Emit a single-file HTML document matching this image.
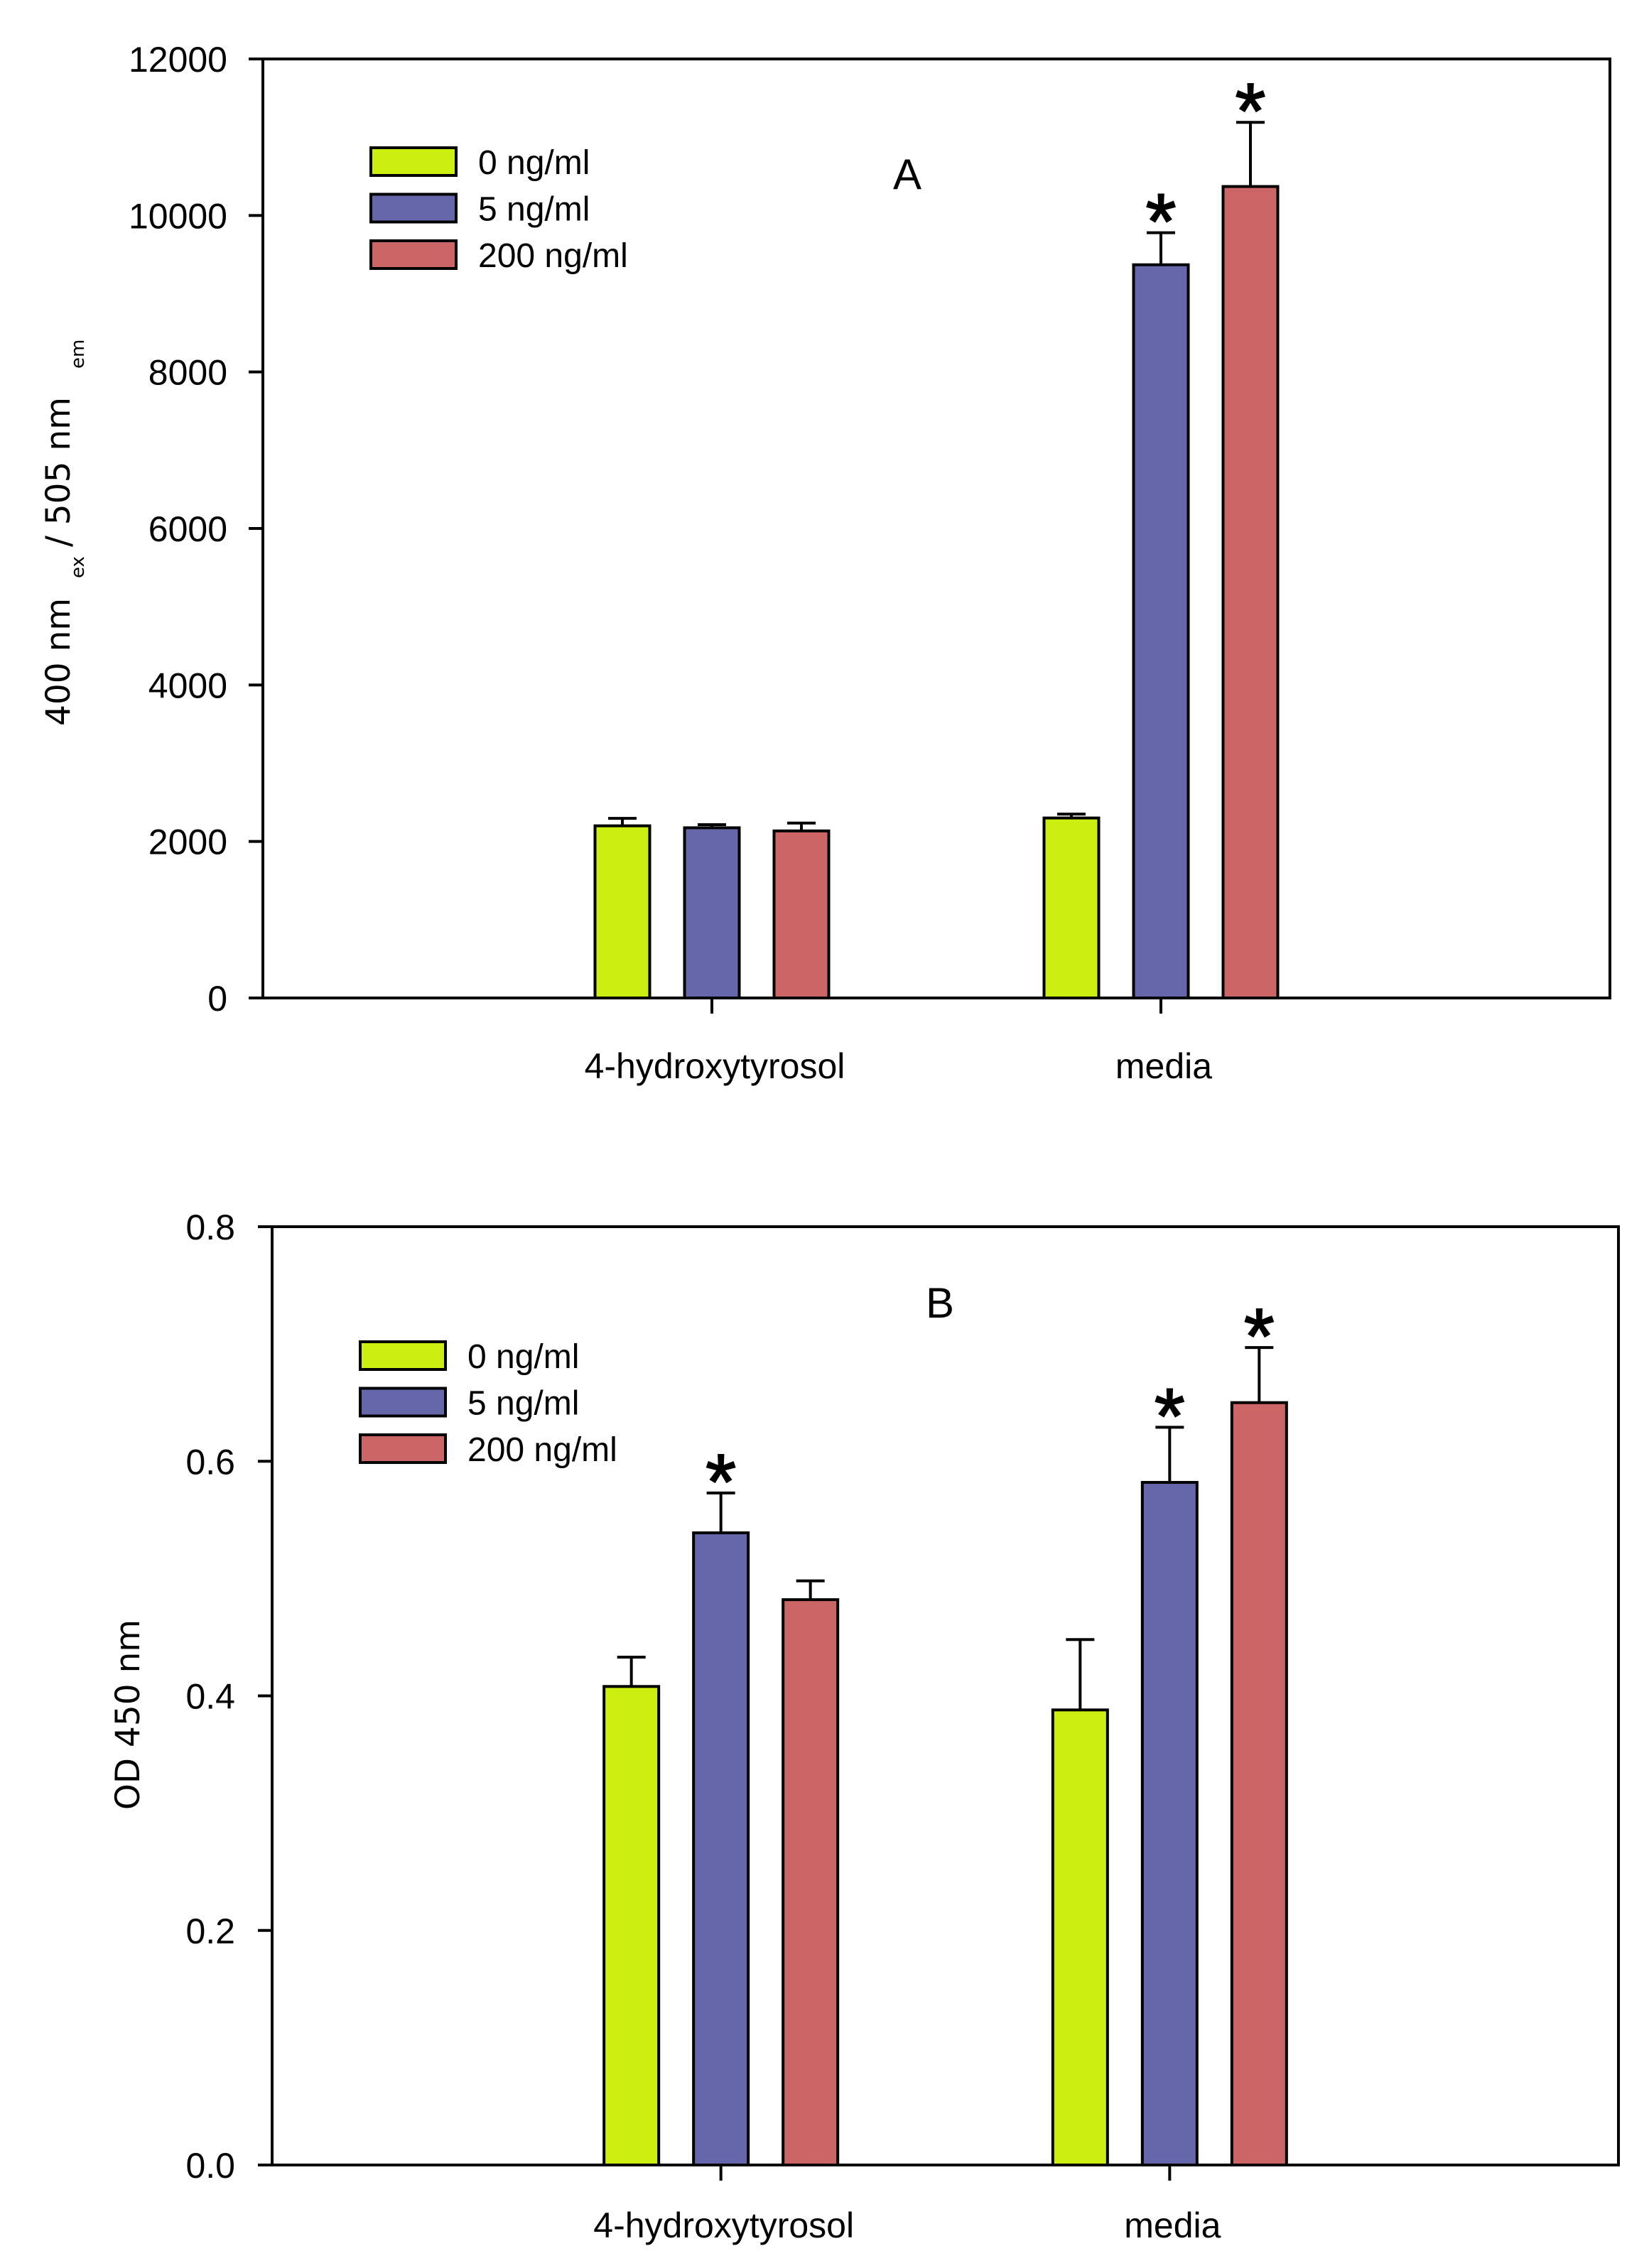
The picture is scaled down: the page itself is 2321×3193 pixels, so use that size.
<!DOCTYPE html>
<html><head><meta charset="utf-8"><style>
html,body{margin:0;padding:0;background:#fff;}
svg{display:block;}
text{font-family:"Liberation Sans",sans-serif;fill:#000;}
</style></head><body>
<svg id="fig" width="2321" height="3193" viewBox="0 0 2321 3193" xmlns="http://www.w3.org/2000/svg">
<g>
<text transform="translate(98,1022) rotate(-90)" style="font-family:'DejaVu Sans',sans-serif" font-size="47">400 nm</text>
<text transform="translate(118,814) rotate(-90)" style="font-family:'DejaVu Sans',sans-serif" font-size="26">ex</text>
<text transform="translate(98,770) rotate(-90)" style="font-family:'DejaVu Sans',sans-serif" font-size="47">/ 505 nm</text>
<text transform="translate(118,519) rotate(-90)" style="font-family:'DejaVu Sans',sans-serif" font-size="26">em</text>
</g>
<text transform="translate(196,2414) rotate(-90)" text-anchor="middle" style="font-family:'DejaVu Sans',sans-serif" font-size="47">OD 450 nm</text>
</svg>
<script>
const categories = ["4-hydroxytyrosol", "media"];
const seriesNames = ["0 ng/ml", "5 ng/ml", "200 ng/ml"];
const colors = ["#CCEE11", "#6667AA", "#CC6666"];
const aValues = [[2200, 2300], [2175, 9370], [2135, 10370]];
const aErrors = [[95, 50], [40, 410], [100, 820]];
const aSig = [[false, false], [false, true], [false, true]];
const aTicks = [0, 2000, 4000, 6000, 8000, 10000, 12000];
const aTickLabels = ["0", "2000", "4000", "6000", "8000", "10000", "12000"];
const bValues = [[0.408, 0.388], [0.539, 0.582], [0.482, 0.650]];
const bErrors = [[0.025, 0.060], [0.034, 0.047], [0.016, 0.047]];
const bSig = [[false, false], [true, true], [false, true]];
const bTicks = [0, 0.2, 0.4, 0.6, 0.8];
const bTickLabels = ["0.0", "0.2", "0.4", "0.6", "0.8"];

const svg = document.getElementById('fig');
const NS = 'http://www.w3.org/2000/svg';
function mk(tag, attrs, parent) {
  const e = document.createElementNS(NS, tag);
  for (const k in attrs) e.setAttribute(k, attrs[k]);
  (parent || svg).appendChild(e);
  return e;
}

function drawChart(cfg) {
  const g = mk('g', {});
  
  
  const yS = v => cfg.bottom - (v - cfg.ymin) / (cfg.ymax - cfg.ymin) * (cfg.bottom - cfg.top);
  const xS = i => cfg.left + (i + 1) / (categories.length + 1) * (cfg.right - cfg.left);
  const barW = 77, step = 126;
  for (let s = 0; s < seriesNames.length; s++) {
    for (let c = 0; c < categories.length; c++) {
      const cx = xS(c) + (s - 1) * step;
      const v = cfg.values[s][c], e = cfg.errors[s][c];
      const yt = yS(v), ye = yS(v + e);
      const ln = mk('line', {x1: cx, x2: cx, y1: yt, y2: ye, stroke: '#000', 'stroke-width': 4}, g);
      
      
      const cap = mk('line', {x1: cx - 20, x2: cx + 20, y1: ye, y2: ye, stroke: '#000', 'stroke-width': 4}, g);
      
      
      const r = mk('rect', {x: cx - barW / 2, y: yt, width: barW, height: yS(cfg.ymin) - yt, fill: colors[s], stroke: '#000', 'stroke-width': 4}, g);
      
      
      if (cfg.sig[s][c]) {
        const t = mk('text', {x: cx, y: ye - 40 + 62, 'text-anchor': 'middle', 'font-size': 110, stroke: '#000', 'stroke-width': 2}, g);
        t.textContent = '*';
        
        
      }
    }
  }
  const fr = mk('rect', {x: cfg.left, y: cfg.top, width: cfg.right - cfg.left, height: cfg.bottom - cfg.top, fill: 'none', stroke: '#000', 'stroke-width': 4}, g);
  
  
  for (let i = 0; i < cfg.ticks.length; i++) {
    const y = yS(cfg.ticks[i]);
    const tk = mk('line', {x1: cfg.left - 20, x2: cfg.left, y1: y, y2: y, stroke: '#000', 'stroke-width': 4}, g);
    
    
    const tl = mk('text', {x: cfg.labelRight, y: y + 18, 'text-anchor': 'end', 'font-size': 50}, g);
    tl.textContent = cfg.tickLabels[i];
    
    
  }
  for (let c = 0; c < categories.length; c++) {
    const x = xS(c);
    const tk = mk('line', {x1: x, x2: x, y1: cfg.bottom, y2: cfg.bottom + 22, stroke: '#000', 'stroke-width': 4}, g);
    
    
    const tl = mk('text', {x: x + 4, y: cfg.catY, 'text-anchor': 'middle', 'font-size': 50}, g);
    tl.textContent = categories[c];
    
    
  }
  const pl = mk('text', {x: cfg.letterX, y: cfg.letterY, 'text-anchor': 'middle', 'font-size': 60}, g);
  pl.textContent = cfg.letter;
  
  
  const lg = mk('g', {}, g);
  
  
  for (let s = 0; s < seriesNames.length; s++) {
    const y = cfg.legY + s * 65.5;
    const sw = mk('rect', {x: cfg.legX, y: y, width: 120, height: 39, fill: colors[s], stroke: '#000', 'stroke-width': 4}, lg);
    
    
    const lt = mk('text', {x: cfg.legX + 151, y: y + 37, 'font-size': 48}, lg);
    lt.textContent = seriesNames[s];
    
    
  }
}

drawChart({name: 'chart-a', left: 370, right: 2266, top: 83, bottom: 1405, ymin: 0, ymax: 12000,
  values: aValues, errors: aErrors, sig: aSig, ticks: aTicks, tickLabels: aTickLabels,
  labelRight: 320, catY: 1518, letter: 'A', letterX: 1277, letterY: 266, legX: 522, legY: 208});
drawChart({name: 'chart-b', left: 383, right: 2278, top: 1727, bottom: 3048, ymin: 0, ymax: 0.8,
  values: bValues, errors: bErrors, sig: bSig, ticks: bTicks, tickLabels: bTickLabels,
  labelRight: 331, catY: 3150, letter: 'B', letterX: 1323, letterY: 1855, legX: 507, legY: 1889});
</script>
</body></html>
